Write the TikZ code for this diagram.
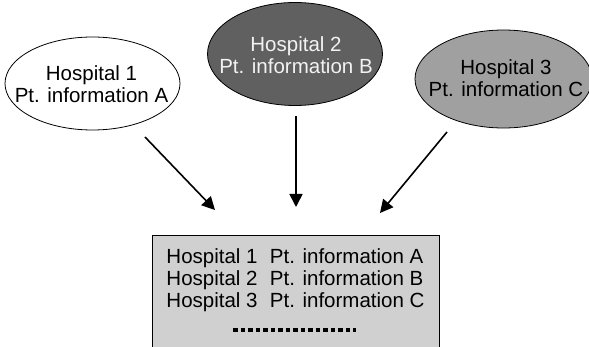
\documentclass[tikz,border=0pt]{standalone}
\usepackage{fontspec}
\setmainfont{Liberation Sans}
\usetikzlibrary{shapes.geometric,arrows.meta}
\definecolor{dark}{HTML}{606060}
\definecolor{mid}{HTML}{A0A0A0}
\definecolor{light}{HTML}{D0D0D0}
\begin{document}
\begin{tikzpicture}[x=1pt,y=-1pt,
  hosp/.style={ellipse,draw=black,line width=0.8pt,inner sep=0pt},
  lbl/.style={inner sep=0pt,align=center,font=\fontsize{20.5}{22}\selectfont},
  conn/.style={line width=1.6pt,-{Triangle[length=13pt,width=13pt]}},
  dots/.style={line width=4pt,dash pattern=on 4.5pt off 3pt}]
\useasboundingbox (0,0) rectangle (589,347);
\clip (0,0) rectangle (589,347);
\node[hosp,fill=white,minimum width=175,minimum height=93] (h1) at (92.5,83.5) {};
\node[lbl] (t1) at (91.5,84) {Hospital 1\\Pt. information A};
\node[hosp,fill=dark,minimum width=175,minimum height=103] (h2) at (295,54) {};
\node[lbl,text=black!5] (t2) at (296,55) {Hospital 2\\Pt. information B};
\node[hosp,fill=mid,minimum width=177,minimum height=98] (h3) at (503.5,79) {};
\node[lbl] (t3) at (506,78) {Hospital 3\\Pt. information C};
\node[draw=black,line width=0.8pt,fill=light,anchor=north west,minimum width=287,minimum height=120,inner sep=0pt] (box) at (152,235) {};
\node[anchor=north,align=left,font=\fontsize{20.5}{22}\selectfont,inner sep=0pt] (txt) at (295.5,248) {Hospital 1\hspace{0.6em}Pt. information A\\Hospital 2\hspace{0.6em}Pt. information B\\Hospital 3\hspace{0.6em}Pt. information C};
\coordinate (d1) at (233,330);
\coordinate (d2) at (356,330);
\draw[dots] (d1) -- (d2);
\coordinate (a1s) at (145,137);
\coordinate (a1e) at (215,210);
\coordinate (a2s) at (296,116);
\coordinate (a2e) at (296,207);
\coordinate (a3s) at (447,132);
\coordinate (a3e) at (380,213);
\draw[conn] (a1s) -- (a1e);
\draw[conn] (a2s) -- (a2e);
\draw[conn] (a3s) -- (a3e);
\end{tikzpicture}
\end{document}
